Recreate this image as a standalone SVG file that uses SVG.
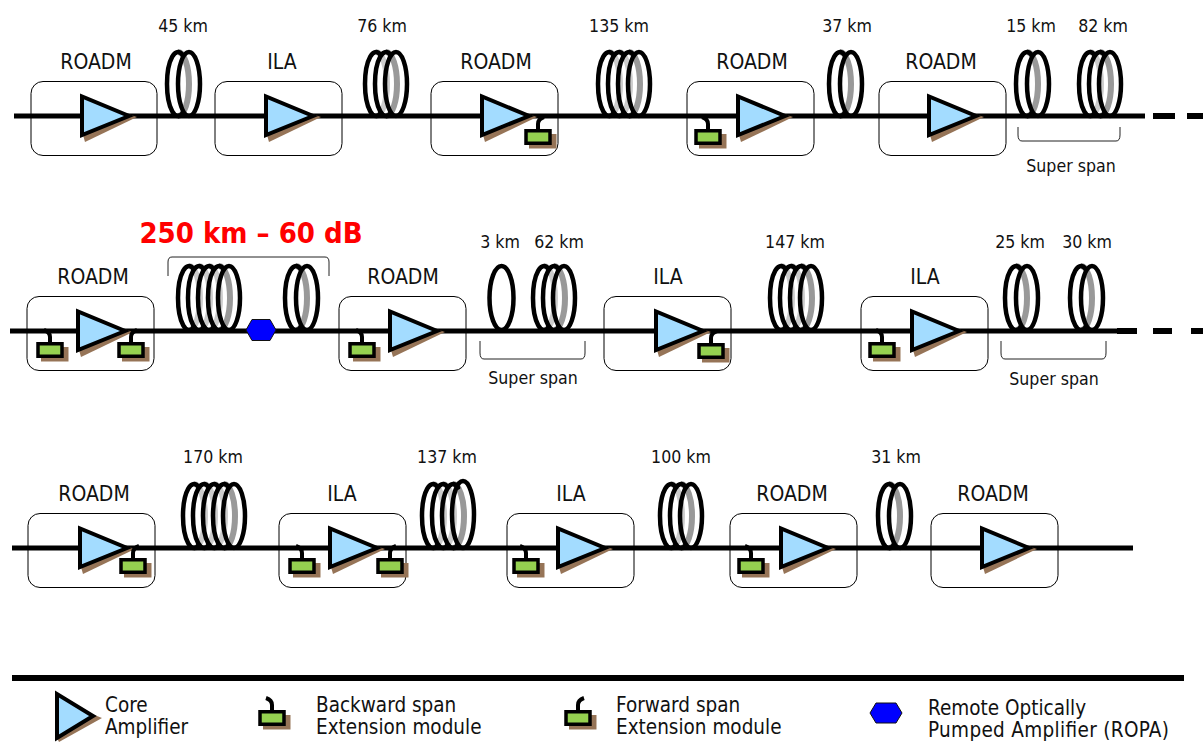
<svg xmlns="http://www.w3.org/2000/svg" width="1203" height="742" viewBox="0 0 1203 742">
<defs>
<style>
text{font-family:"DejaVu Sans Condensed","DejaVu Sans",sans-serif;fill:#111;font-size:17.600px}
.l{font-size:21px}
.lg{font-size:20.500px}
.line{stroke:#000;stroke-width:5;fill:none}
.dash{stroke:#000;stroke-width:6;fill:none}
.box{fill:none;stroke:#000;stroke-width:1}
.k{fill:none;stroke:#000;stroke-width:4.500;stroke-linecap:round}
.g1{fill:none;stroke:#999;stroke-width:6}
.g2{fill:none;stroke:#ccc;stroke-width:6}
.br{fill:none;stroke:#222;stroke-width:1}
.stem{fill:none;stroke:#000;stroke-width:4}
.hex{fill:#0000ff;stroke:#111;stroke-width:1}
</style>
<g id="tri"><path d="M1 19L3 26L55 1L46 -2Z" fill="#967457"/><path d="M0 -19.500V19L47 0Z" fill="#a3dcff" stroke="#000" stroke-width="4"/></g>
<g id="mod"><path d="M-9 5H18.500V19.500H-9Z" fill="#967457"/><rect x="-12" y="1.750" width="24" height="12.500" fill="#95d150" stroke="#000" stroke-width="3.500"/></g>
<g id="back"><use href="#mod"/><path class="stem" d="M0 1V-5Q0 -10 -6 -12"/></g>
<g id="fwd"><use href="#mod"/><path class="stem" d="M0 1V-5Q0 -10 6 -12"/></g>
<path id="a13" class="k" d="M18 28.500A11 32 0 1 1 18 -28.500"/>
<path id="a23" class="k" d="M28 28.500A11 32 0 1 1 28 -28.500"/>
<path id="a33" class="k" d="M38 28.500A11 32 0 1 1 38 -28.500"/>
<path id="a43" class="k" d="M48 28.500A11 32 0 1 1 48 -28.500"/>
<g id="c1"><ellipse class="k" cx="13" cy="0" rx="12" ry="32"/></g>
<g id="c2"><path class="g1" d="M13 -32A11 32 0 0 1 13 32"/><use href="#a13"/><ellipse class="k" cx="24" cy="0" rx="11" ry="32"/></g>
<g id="c3"><path class="g2" d="M13 -32A11 32 0 0 1 13 32"/><path class="g1" d="M23 -32A11 32 0 0 1 23 32"/><use href="#a13"/><use href="#a23"/><ellipse class="k" cx="33" cy="0" rx="11" ry="32"/></g>
<g id="c4"><path class="g2" d="M13 -32A11 32 0 0 1 13 32"/><path class="g2" d="M23 -32A11 32 0 0 1 23 32"/><path class="g1" d="M33 -32A11 32 0 0 1 33 32"/><use href="#a13"/><use href="#a23"/><use href="#a33"/><ellipse class="k" cx="43" cy="0" rx="11" ry="32"/></g>
<g id="c4b"><path class="g2" d="M13 -32A11 32 0 0 1 13 32"/><path class="g2" d="M23 -32A11 32 0 0 1 23 32"/><path class="g1" d="M33 -32A11 32 0 0 1 33 32"/><use href="#a13"/><use href="#a23"/><use href="#a33"/><ellipse class="k" cx="43" cy="-1.500" rx="11" ry="33.500"/></g>
<g id="c5"><path class="g2" d="M13 -32A11 32 0 0 1 13 32"/><path class="g2" d="M23 -32A11 32 0 0 1 23 32"/><path class="g2" d="M33 -32A11 32 0 0 1 33 32"/><path class="g1" d="M43 -32A11 32 0 0 1 43 32"/><use href="#a13"/><use href="#a23"/><use href="#a33"/><use href="#a43"/><ellipse class="k" cx="53" cy="0" rx="11" ry="32"/></g>
</defs>

<g id="coils">
<use href="#c2" x="165" y="84"/><use href="#c3" x="363" y="84"/><use href="#c4" x="596" y="84"/><use href="#c2" x="827" y="84"/><use href="#c2" x="1014" y="84"/><use href="#c3" x="1077" y="84"/>
<use href="#c5" x="176" y="298"/><use href="#c2" x="283" y="298"/><use href="#c1" x="488.500" y="298"/><use href="#c3" x="531" y="298"/><use href="#c4" x="768" y="298"/><use href="#c2" x="1003" y="298"/><use href="#c2" x="1068" y="298"/>
<use href="#c5" x="181" y="516"/><use href="#c4b" x="420" y="516"/><use href="#c3" x="658" y="516"/><use href="#c2" x="876" y="516"/>
</g>

<g id="connectors">
<path class="line" d="M14 116H1145"/><path class="dash" d="M1153 116H1175M1187 116H1203"/>
<path class="line" d="M10 331H1117"/><path class="dash" d="M1117 331H1137M1153 331H1172M1191 331H1203"/>
<path class="line" d="M12 548H1133"/>
<path class="dash" d="M12 678H1184"/>
</g>

<g id="n1"><rect class="box" x="31" y="81.500" width="126" height="74" rx="12"/><text class="l" x="96" y="69" text-anchor="middle">ROADM</text><use href="#tri" x="82" y="116"/></g>
<g id="n2"><rect class="box" x="215" y="81.500" width="127" height="74" rx="12"/><text class="l" x="282" y="69" text-anchor="middle">ILA</text><use href="#tri" x="266" y="116"/></g>
<g id="n3"><rect class="box" x="431" y="81.500" width="127" height="74" rx="12"/><text class="l" x="496" y="69" text-anchor="middle">ROADM</text><use href="#tri" x="482" y="116"/><use href="#fwd" x="538" y="129"/></g>
<g id="n4"><rect class="box" x="687" y="81.500" width="127" height="74" rx="12"/><text class="l" x="752" y="69" text-anchor="middle">ROADM</text><use href="#tri" x="738" y="116"/><use href="#back" x="708" y="129"/></g>
<g id="n5"><rect class="box" x="879" y="81.500" width="127" height="74" rx="12"/><text class="l" x="941" y="69" text-anchor="middle">ROADM</text><use href="#tri" x="929" y="116"/></g>

<g id="n6"><rect class="box" x="27" y="296.500" width="127" height="74" rx="12"/><text class="l" x="93" y="284" text-anchor="middle">ROADM</text><use href="#tri" x="78" y="331"/><use href="#back" x="50" y="342"/><use href="#fwd" x="131" y="342"/></g>
<g id="n7"><rect class="box" x="339" y="296.500" width="127" height="74" rx="12"/><text class="l" x="403" y="284" text-anchor="middle">ROADM</text><use href="#tri" x="390" y="331"/><use href="#back" x="362" y="342"/></g>
<g id="n8"><rect class="box" x="604" y="296.500" width="127" height="74" rx="12"/><text class="l" x="668" y="284" text-anchor="middle">ILA</text><use href="#tri" x="656" y="331"/><use href="#fwd" x="711" y="343"/></g>
<g id="n9"><rect class="box" x="861" y="296.500" width="127" height="74" rx="12"/><text class="l" x="925" y="284" text-anchor="middle">ILA</text><use href="#tri" x="912" y="331"/><use href="#back" x="882" y="342"/></g>

<g id="n10"><rect class="box" x="28" y="513.500" width="127" height="74" rx="12"/><text class="l" x="94" y="501" text-anchor="middle">ROADM</text><use href="#tri" x="80" y="548"/><use href="#fwd" x="133" y="558"/></g>
<g id="n11"><rect class="box" x="279" y="513.500" width="127" height="74" rx="12"/><text class="l" x="342" y="501" text-anchor="middle">ILA</text><use href="#tri" x="330" y="548"/><use href="#back" x="302" y="558"/><use href="#fwd" x="390" y="558"/></g>
<g id="n12"><rect class="box" x="507" y="513.500" width="127" height="74" rx="12"/><text class="l" x="571" y="501" text-anchor="middle">ILA</text><use href="#tri" x="558" y="548"/><use href="#back" x="526" y="558"/></g>
<g id="n13"><rect class="box" x="730" y="513.500" width="127" height="74" rx="12"/><text class="l" x="792" y="501" text-anchor="middle">ROADM</text><use href="#tri" x="781" y="548"/><use href="#back" x="751" y="558"/></g>
<g id="n14"><rect class="box" x="931" y="513.500" width="127" height="74" rx="12"/><text class="l" x="993" y="501" text-anchor="middle">ROADM</text><use href="#tri" x="982" y="548"/></g>

<g id="ropa"><path class="hex" d="M246 330L252 319.500H270L276 330L270 340.500H252Z"/></g>

<g id="labels" text-anchor="middle">
<text x="183" y="32">45 km</text><text x="382" y="32">76 km</text><text x="619" y="32">135 km</text><text x="847" y="32">37 km</text><text x="1031" y="32">15 km</text><text x="1103" y="32">82 km</text>
<text x="500" y="248">3 km</text><text x="559" y="248">62 km</text><text x="795" y="248">147 km</text><text x="1020" y="248">25 km</text><text x="1087" y="248">30 km</text>
<text x="213" y="463">170 km</text><text x="447" y="463">137 km</text><text x="681" y="463">100 km</text><text x="896" y="463">31 km</text>
<text x="1071" y="172">Super span</text><text x="533" y="384">Super span</text><text x="1054" y="385">Super span</text>
<text x="251" y="243" style="font-size:29px;font-weight:bold;fill:#f00">250 km – 60 dB</text>
</g>

<g id="brackets">
<path class="br" d="M1018 127V135Q1018 141 1022 141H1116Q1120 141 1120 135V127"/>
<path class="br" d="M168 276V262Q168 257 172 257H325Q329 257 329 262V276"/>
<path class="br" d="M480 341V353Q480 359 484 359H581Q585 359 585 353V341"/>
<path class="br" d="M1001 341V353Q1001 359 1005 359H1102Q1106 359 1106 353V341"/>
</g>

<g id="legend">
<path d="M57 738L59 742L102 718L92 714Z" fill="#967457"/>
<path d="M57 694V738L93 716Z" fill="#a3dcff" stroke="#000" stroke-width="4"/>
<text class="lg" x="105" y="712">Core</text><text class="lg" x="105" y="734">Amplifier</text>
<use href="#back" x="272" y="710"/>
<text class="lg" x="316" y="712">Backward span</text><text class="lg" x="316" y="734">Extension module</text>
<use href="#fwd" x="578" y="710"/>
<text class="lg" x="616" y="712">Forward span</text><text class="lg" x="616" y="734">Extension module</text>
<path class="hex" d="M870 713L876 703H896L902 713L896 723H876Z"/>
<text class="lg" x="928" y="715">Remote Optically</text><text class="lg" x="928" y="737" textLength="241" lengthAdjust="spacing">Pumped Amplifier (ROPA)</text>
</g>
</svg>
